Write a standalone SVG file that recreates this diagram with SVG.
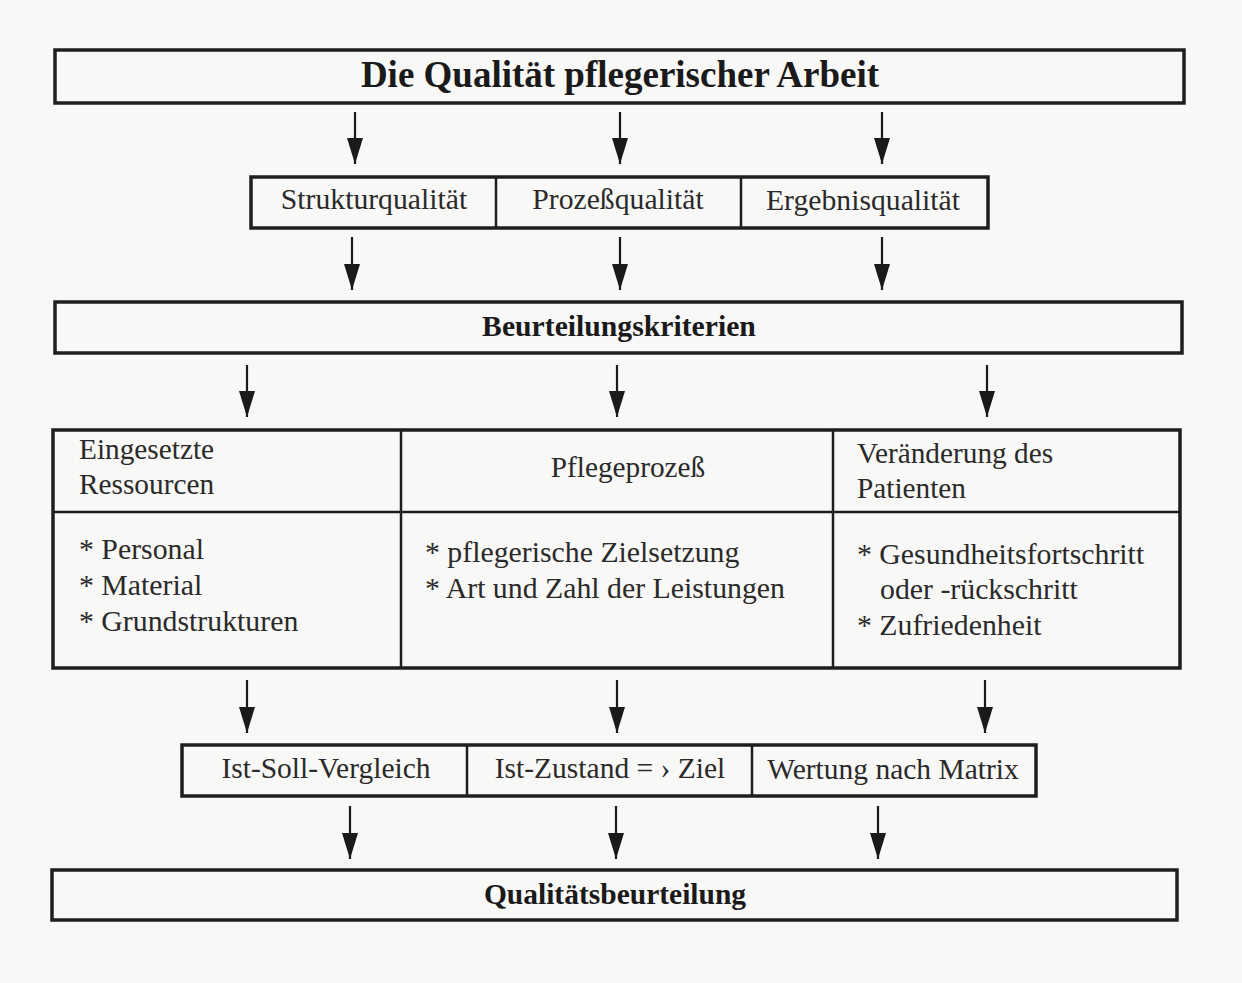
<svg xmlns="http://www.w3.org/2000/svg" width="1242" height="983" viewBox="0 0 1242 983">
<style>
.box{fill:none;stroke:#1e1e1e;stroke-width:3.5}
.div{stroke:#1e1e1e;stroke-width:2.5}
.t{font-family:"Liberation Serif","Times New Roman",serif;fill:#2a2a2a}
.b{font-weight:bold;fill:#1a1a1a}
.c{text-anchor:middle}
.arr{stroke:#1a1a1a;stroke-width:2.2;fill:none;marker-end:url(#ah)}
</style>
<defs>
<marker id="ah" markerUnits="userSpaceOnUse" markerWidth="26" markerHeight="16" refX="26" refY="8" orient="auto" viewBox="0 0 26 16">
<path d="M0,0 L26,8 L0,16 Z" fill="#1a1a1a"/>
</marker>
</defs>
<rect width="1242" height="983" fill="#f8f8f6"/>

<g id="connectors">
<line class="arr" x1="355" y1="112" x2="355" y2="164"/>
<line class="arr" x1="620" y1="112" x2="620" y2="164"/>
<line class="arr" x1="882" y1="112" x2="882" y2="164"/>
<line class="arr" x1="352" y1="237" x2="352" y2="290"/>
<line class="arr" x1="620" y1="237" x2="620" y2="290"/>
<line class="arr" x1="882" y1="237" x2="882" y2="290"/>
<line class="arr" x1="247" y1="365" x2="247" y2="417"/>
<line class="arr" x1="617" y1="365" x2="617" y2="417"/>
<line class="arr" x1="987" y1="365" x2="987" y2="417"/>
<line class="arr" x1="247" y1="680" x2="247" y2="733"/>
<line class="arr" x1="617" y1="680" x2="617" y2="733"/>
<line class="arr" x1="985" y1="680" x2="985" y2="733"/>
<line class="arr" x1="350" y1="806" x2="350" y2="859"/>
<line class="arr" x1="616" y1="806" x2="616" y2="859"/>
<line class="arr" x1="878" y1="806" x2="878" y2="859"/>
</g>

<g id="title">
<rect class="box" x="55" y="50" width="1129" height="53"/>
<text class="t b c" x="620" y="87" font-size="37">Die Qualität pflegerischer Arbeit</text>
</g>

<g id="qualities">
<rect class="box" x="251" y="177" width="737" height="51"/>
<line class="div" x1="496" y1="177" x2="496" y2="228"/>
<line class="div" x1="741" y1="177" x2="741" y2="228"/>
<text class="t c" x="374" y="209" font-size="29.7">Strukturqualität</text>
<text class="t c" x="618" y="209" font-size="29.7">Prozeßqualität</text>
<text class="t c" x="863" y="210" font-size="29.7">Ergebnisqualität</text>
</g>

<g id="kriterien">
<rect class="box" x="55" y="302" width="1127" height="51"/>
<text class="t b c" x="619" y="336" font-size="29.7">Beurteilungskriterien</text>
</g>

<g id="table">
<rect class="box" x="53" y="430" width="1127" height="238"/>
<line class="div" x1="53" y1="512" x2="1180" y2="512"/>
<line class="div" x1="401" y1="430" x2="401" y2="668"/>
<line class="div" x1="833" y1="430" x2="833" y2="668"/>
<text class="t" x="79" y="459" font-size="29.3">Eingesetzte</text>
<text class="t" x="79" y="494" font-size="29.3">Ressourcen</text>
<text class="t c" x="628" y="477" font-size="29.3">Pflegeprozeß</text>
<text class="t" x="857" y="463" font-size="29.3">Veränderung des</text>
<text class="t" x="857" y="498" font-size="29.3">Patienten</text>
<text class="t" x="79" y="559" font-size="29.8">* Personal</text>
<text class="t" x="79" y="595" font-size="29.8">* Material</text>
<text class="t" x="79" y="631" font-size="29.8">* Grundstrukturen</text>
<text class="t" x="425" y="562" font-size="29.8">* pflegerische Zielsetzung</text>
<text class="t" x="425" y="598" font-size="29.8">* Art und Zahl der Leistungen</text>
<text class="t" x="857" y="564" font-size="29.8">* Gesundheitsfortschritt</text>
<text class="t" x="880" y="599" font-size="29.8">oder -rückschritt</text>
<text class="t" x="857" y="635" font-size="29.8">* Zufriedenheit</text>
</g>

<g id="vergleich">
<rect class="box" x="182" y="745" width="854" height="51"/>
<line class="div" x1="467" y1="745" x2="467" y2="796"/>
<line class="div" x1="752" y1="745" x2="752" y2="796"/>
<text class="t c" x="326" y="778" font-size="29.5">Ist-Soll-Vergleich</text>
<text class="t c" x="610" y="778" font-size="29.5">Ist-Zustand = › Ziel</text>
<text class="t c" x="893" y="779" font-size="29.5">Wertung nach Matrix</text>
</g>

<g id="ergebnis">
<rect class="box" x="52" y="870" width="1125" height="50"/>
<text class="t b c" x="615" y="904" font-size="29.5">Qualitätsbeurteilung</text>
</g>
</svg>
